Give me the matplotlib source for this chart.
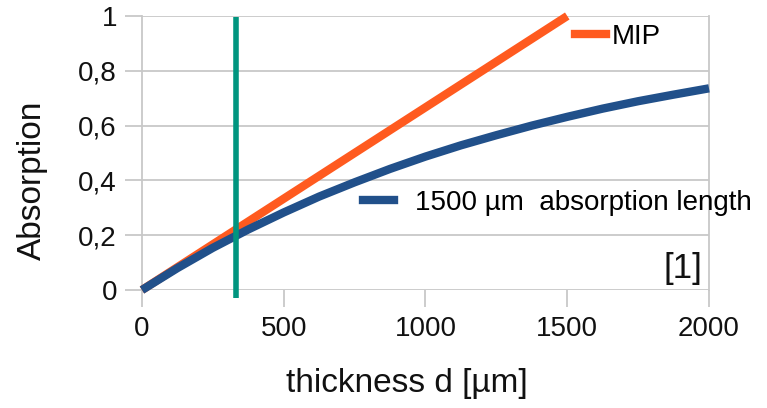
import matplotlib.pyplot as plt
from matplotlib.lines import Line2D

plt.rcParams['font.family'] = ['Liberation Sans', 'DejaVu Sans']

# absorption curve for a 1500 um absorption length
thickness = [0, 125, 250, 375, 500, 625, 750, 875, 1000, 1125, 1250, 1375,
             1500, 1625, 1750, 1875, 2000]
absorption = [0, 0.080, 0.154, 0.221, 0.283, 0.341, 0.393, 0.442, 0.487,
              0.528, 0.565, 0.600, 0.632, 0.662, 0.689, 0.713, 0.736]

# MIP straight line
mip_thickness = [0, 1500]
mip_absorption = [0, 1]

# sensor thickness marker
marker_d = 330

yticks = [0, 0.2, 0.4, 0.6, 0.8, 1]
ytick_labels = ['0', '0,2', '0,4', '0,6', '0,8', '1']
xticks = [0, 500, 1000, 1500, 2000]
xtick_labels = ['0', '500', '1000', '1500', '2000']

ORANGE = '#ff5a1f'
BLUE = '#21508a'
GREEN = '#00957f'
GRID = '#c8c8c8'
TXT = '#111111'

fig = plt.figure(figsize=(7.67, 4.08), dpi=100)
ax = fig.add_axes([0.1851, 0.2892, 0.7393, 0.6716])

ax.set_xlim(0, 2000)
ax.set_ylim(0, 1)

ax.set_yticks(yticks)
ax.set_yticklabels(ytick_labels)
ax.set_xticks(xticks)
ax.set_xticklabels(xtick_labels)

ax.yaxis.grid(True, color=GRID, linewidth=1.3)
ax.set_axisbelow(True)
for side in ['top', 'bottom']:
    ax.spines[side].set_visible(False)
for side in ['left', 'right']:
    ax.spines[side].set_color(GRID)
    ax.spines[side].set_linewidth(1.3)

ax.tick_params(axis='both', colors=GRID, width=1.3, length=12,
               labelcolor=TXT, labelsize=20)
ax.tick_params(axis='x', pad=7)
ax.tick_params(axis='y', pad=6)

mip_line, = ax.plot(mip_thickness, mip_absorption, color=ORANGE, lw=6,
                    solid_capstyle='butt', clip_on=False, zorder=3)
abs_line, = ax.plot(thickness, absorption, color=BLUE, lw=6,
                    solid_joinstyle='round', solid_capstyle='butt',
                    clip_on=False, zorder=4)
ax.plot([marker_d, marker_d], [-0.03, 0.995], color=GREEN, lw=4,
        solid_capstyle='butt', clip_on=False, zorder=5)

ax.set_xlabel('thickness d [µm]', fontsize=24, color=TXT)
ax.xaxis.set_label_coords(0.468, -0.285)
ax.set_ylabel('Absorption', fontsize=24, color=TXT)
ax.yaxis.set_label_coords(-0.166, 0.40)

leg1 = ax.legend([Line2D([], [], color=ORANGE, lw=6)], ['MIP'],
                 loc='center left', bbox_to_anchor=(0.764, 0.923),
                 frameon=False, fontsize=20, handlelength=1.1,
                 handletextpad=0.2, borderpad=0, borderaxespad=0)
ax.add_artist(leg1)
ax.legend([Line2D([], [], color=BLUE, lw=6)],
          ['1500 µm  absorption length'],
          loc='center left', bbox_to_anchor=(0.39, 0.318),
          frameon=False, fontsize=20, handlelength=1.1,
          handletextpad=0.75, borderpad=0, borderaxespad=0)

ax.text(0.988, 0.077, '[1]', transform=ax.transAxes, ha='right', va='center',
        fontsize=25, color=TXT)

fig.savefig('out.png', dpi=100)
